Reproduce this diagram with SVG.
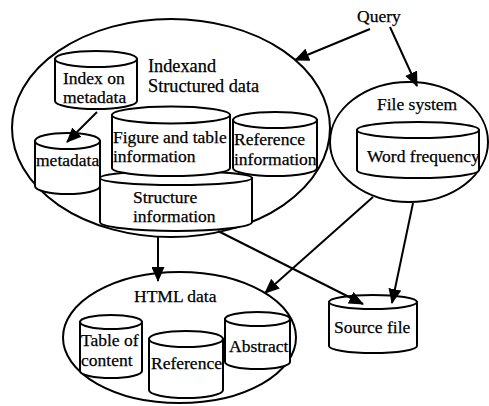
<svg xmlns="http://www.w3.org/2000/svg" width="489" height="406" viewBox="0 0 489 406">
<style>
  .outline { fill: none; stroke: #000; stroke-width: 2; }
  .cyl { fill: #fff; stroke: #000; stroke-width: 2; }
  .lbl { font-family: "Liberation Serif", "Times New Roman", serif; font-size: 17.5px; fill: #000; stroke: #000; stroke-width: 0.25; }
  .big { font-size: 18.3px; }
  .conn { stroke: #000; stroke-width: 2; fill: none; marker-end: url(#arrow); }
</style>
<defs>
  <marker id="arrow" markerUnits="userSpaceOnUse" markerWidth="15" markerHeight="13" refX="14" refY="6.5" orient="auto">
    <path d="M0,0 L15,6.5 L0,13 Z" fill="#000"/>
  </marker>
</defs>
<rect width="489" height="406" fill="#fff"/>

<g id="index-structured-data">
  <ellipse class="outline" cx="171" cy="128" rx="159" ry="109"/>
  <text class="lbl big" x="148" y="72">Indexand</text>
  <text class="lbl big" x="148" y="92">Structured data</text>
</g>

<g id="file-system">
  <ellipse class="outline" cx="409" cy="142" rx="79" ry="60"/>
  <text class="lbl" x="377" y="110">File system</text>
</g>

<g id="html-data">
  <ellipse class="outline" cx="179.5" cy="337.5" rx="116.5" ry="65.5"/>
  <text class="lbl" x="134" y="302">HTML data</text>
</g>

<g id="query">
  <text class="lbl" x="357" y="22">Query</text>
</g>

<g id="index-on-metadata">
  <path class="cyl" d="M55,59 L55,101 A41,8 0 0 0 137,101 L137,59 Z"/>
  <ellipse class="cyl" cx="96" cy="59" rx="41" ry="8"/>
  <text class="lbl" x="63" y="84">Index on</text>
  <text class="lbl" x="63" y="103">metadata</text>
</g>

<g id="metadata">
  <path class="cyl" d="M35,141 L35,186 A32.5,8 0 0 0 100,186 L100,141 Z"/>
  <ellipse class="cyl" cx="67.5" cy="141" rx="32.5" ry="8"/>
  <text class="lbl" x="36" y="166">metadata</text>
</g>

<g id="structure-information">
  <path class="cyl" d="M100,178 L100,222 A76,9 0 0 0 252,222 L252,178 Z"/>
  <ellipse class="cyl" cx="176" cy="178" rx="76" ry="7"/>
  <text class="lbl" x="133" y="203">Structure</text>
  <text class="lbl" x="133" y="222">information</text>
</g>

<g id="figure-table-information">
  <path class="cyl" d="M112,115 L112,168 A59,8 0 0 0 230,168 L230,115 Z"/>
  <ellipse class="cyl" cx="171" cy="115" rx="59" ry="8.5"/>
  <text class="lbl" x="113" y="143">Figure and table</text>
  <text class="lbl" x="113" y="162">information</text>
</g>

<g id="reference-information">
  <path class="cyl" d="M233,120 L233,168 A42,8 0 0 0 317,168 L317,120 Z"/>
  <ellipse class="cyl" cx="275" cy="120" rx="42" ry="8"/>
  <text class="lbl" x="234" y="145">Reference</text>
  <text class="lbl" x="234" y="165">information</text>
</g>

<g id="word-frequency">
  <path class="cyl" d="M357,130 L357,170 A61,8 0 0 0 479,170 L479,130 Z"/>
  <ellipse class="cyl" cx="418" cy="130" rx="61" ry="8"/>
  <text class="lbl" x="367" y="162">Word frequency</text>
</g>

<g id="table-of-content">
  <path class="cyl" d="M80,322 L80,371 A31,7 0 0 0 142,371 L142,322 Z"/>
  <ellipse class="cyl" cx="111" cy="322" rx="31" ry="7"/>
  <text class="lbl" x="81" y="346">Table of</text>
  <text class="lbl" x="81" y="366">content</text>
</g>

<g id="reference">
  <path class="cyl" d="M149,339 L149,390 A37,8 0 0 0 223,390 L223,339 Z"/>
  <ellipse class="cyl" cx="186" cy="339" rx="37" ry="8"/>
  <text class="lbl" x="151" y="369">Reference</text>
</g>

<g id="abstract">
  <path class="cyl" d="M225,319 L225,362 A32.5,7 0 0 0 290,362 L290,319 Z"/>
  <ellipse class="cyl" cx="257.5" cy="319" rx="32.5" ry="7"/>
  <text class="lbl" x="229" y="352">Abstract</text>
</g>

<g id="source-file">
  <path class="cyl" d="M329,302 L329,346 A44,7 0 0 0 417,346 L417,302 Z"/>
  <ellipse class="cyl" cx="373" cy="302" rx="44" ry="7"/>
  <text class="lbl" x="334" y="333">Source file</text>
</g>

<g id="connectors">
  <line class="conn" x1="370" y1="29" x2="295" y2="60"/>
  <line class="conn" x1="390" y1="27" x2="417" y2="86"/>
  <line class="conn" x1="97" y1="112" x2="67" y2="142"/>
  <line class="conn" x1="158" y1="236" x2="158" y2="281"/>
  <line class="conn" x1="218" y1="231" x2="363" y2="304"/>
  <line class="conn" x1="373" y1="197" x2="265" y2="293"/>
  <line class="conn" x1="413" y1="203" x2="392" y2="303"/>
</g>
</svg>
